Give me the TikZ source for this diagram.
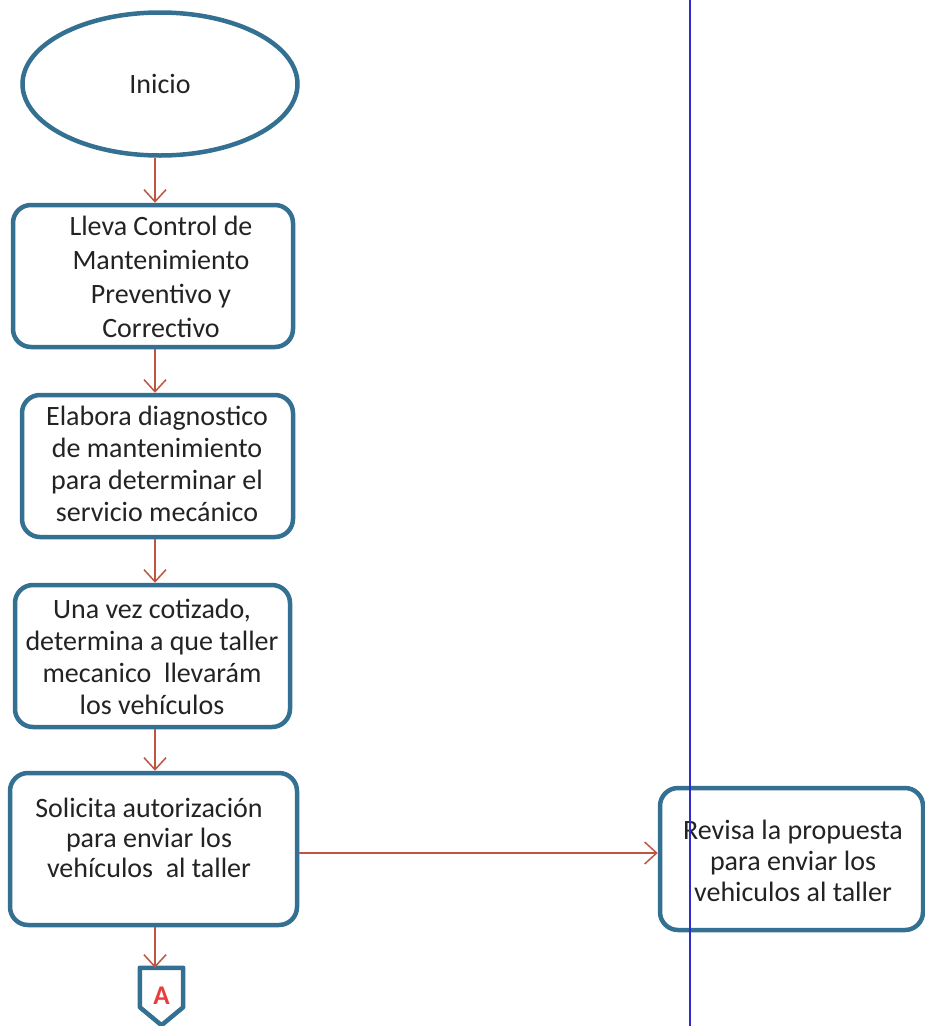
\documentclass[tikz,border=0pt]{standalone}
\usepackage{fontspec}
\setmainfont{Carlito}
\usetikzlibrary{shapes.geometric,arrows.meta,calc}
\definecolor{boxblue}{RGB}{52,112,145}
\definecolor{arrred}{RGB}{190,85,65}
\definecolor{lblred}{RGB}{235,60,60}
\definecolor{laneblue}{RGB}{45,45,200}
\definecolor{txtgray}{RGB}{35,35,35}
\begin{document}
\begin{tikzpicture}[x=1pt,y=-1pt,
  proc/.style={draw=boxblue, line width=4.5pt, rounded corners=18pt, fill=white, inner sep=0pt},
  txt/.style={align=center, font=\fontsize{28}{32}\selectfont, text=txtgray, inner sep=0pt},
  flow/.style={draw=arrred, line width=1.5pt, -{Straight Barb[length=12pt,width=22pt,line width=1.5pt]}},
  lane/.style={draw=laneblue, line width=2pt}]
\useasboundingbox (0,0) rectangle (925,1026);
% swimlane divider
\coordinate (lanetop) at (690,0);
\coordinate (lanebot) at (690,1026);
% nodes
\node[ellipse, draw=boxblue, line width=4.5pt, minimum width=275pt, minimum height=143pt, inner sep=0pt] (inicio) at (160,84) {};
\node[txt] (tinicio) at (160,84) {Inicio};
\node[proc, minimum width=280pt, minimum height=142pt] (b1) at (153,276) {};
\node[txt, font=\fontsize{28}{34}\selectfont] (t1) at (161,277) {Lleva Control de\\Mantenimiento\\Preventivo y\\Correctivo};
\node[proc, minimum width=271pt, minimum height=142pt] (b2) at (157.5,466) {};
\node[txt] (t2) at (157,464) {Elabora diagnostico\\de mantenimiento\\para determinar el\\servicio mecánico};
\node[proc, minimum width=275pt, minimum height=142pt] (b3) at (152.5,656) {};
\node[txt] (t3) at (152,657) {Una vez cotizado,\\determina a que taller\\mecanico \ llevarám\\los vehículos};
\node[proc, minimum width=287pt, minimum height=152pt] (b4) at (153.5,849) {};
\node[txt, font=\fontsize{28}{30}\selectfont] (t4) at (149,838) {Solicita autorización\\para enviar los\\vehículos \ al taller};
\node[proc, minimum width=263pt, minimum height=142pt] (b5) at (791.5,859) {};
\node[txt, font=\fontsize{28}{31}\selectfont] (t5) at (793,861) {Revisa la propuesta\\para enviar los\\vehiculos al taller};
\node[inner sep=0pt, minimum width=43pt, minimum height=39pt] (conA) at (161.5,987.5) {};
\draw[boxblue, line width=4.5pt, line join=round] (conA.north west) -- (conA.north east) -- (conA.south east) -- ($(conA.south)+(0,18)$) -- (conA.south west) -- cycle;
\node[font=\fontsize{27}{28}\selectfont\bfseries, text=lblred, inner sep=0pt] (tA) at (161.5,996) {A};
% divider line
\draw[lane] (lanetop) -- (lanebot);
% connectors
\coordinate (ax) at (155,0);
\draw[flow] (inicio.south -| ax) -- (b1.north -| ax);
\draw[flow] (b1.south -| ax) -- (b2.north -| ax);
\draw[flow] (b2.south -| ax) -- (b3.north -| ax);
\draw[flow] (b3.south -| ax) -- (b4.north -| ax);
\draw[flow] (b4.south -| ax) -- (conA.north -| ax);
\draw[flow] ($(b4.east)+(0,4)$) -- ($(b4.east -| b5.west)+(0,4)$);
\end{tikzpicture}
\end{document}
